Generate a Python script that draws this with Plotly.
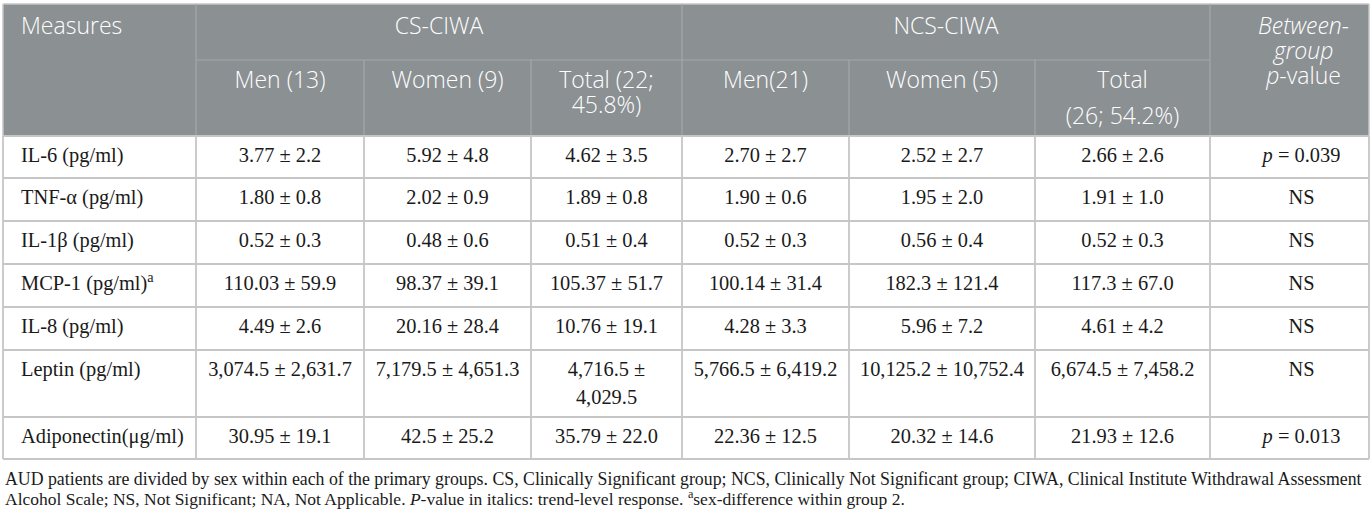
import plotly.graph_objects as go

# table contents
measures = ["IL-6 (pg/ml)", "TNF-α (pg/ml)", "IL-1β (pg/ml)", "MCP-1 (pg/ml)<sup>a</sup>",
            "IL-8 (pg/ml)", "Leptin (pg/ml)", "Adiponectin(μg/ml)"]
cs_men = ["3.77 ± 2.2", "1.80 ± 0.8", "0.52 ± 0.3", "110.03 ± 59.9",
          "4.49 ± 2.6", "3,074.5 ± 2,631.7", "30.95 ± 19.1"]
cs_women = ["5.92 ± 4.8", "2.02 ± 0.9", "0.48 ± 0.6", "98.37 ± 39.1",
            "20.16 ± 28.4", "7,179.5 ± 4,651.3", "42.5 ± 25.2"]
cs_total = ["4.62 ± 3.5", "1.89 ± 0.8", "0.51 ± 0.4", "105.37 ± 51.7",
            "10.76 ± 19.1", "4,716.5 ±<br>4,029.5", "35.79 ± 22.0"]
ncs_men = ["2.70 ± 2.7", "1.90 ± 0.6", "0.52 ± 0.3", "100.14 ± 31.4",
           "4.28 ± 3.3", "5,766.5 ± 6,419.2", "22.36 ± 12.5"]
ncs_women = ["2.52 ± 2.7", "1.95 ± 2.0", "0.56 ± 0.4", "182.3 ± 121.4",
             "5.96 ± 7.2", "10,125.2 ± 10,752.4", "20.32 ± 14.6"]
ncs_total = ["2.66 ± 2.6", "1.91 ± 1.0", "0.52 ± 0.3", "117.3 ± 67.0",
             "4.61 ± 4.2", "6,674.5 ± 7,458.2", "21.93 ± 12.6"]
p_values = ["<i>p</i> = 0.039", "NS", "NS", "NS", "NS", "NS", "<i>p</i> = 0.013"]

first_header = "Measures"
group_labels = ["CS-CIWA", "NCS-CIWA"]
sub_labels = ["Men (13)", "Women (9)", "Total (22;<br>45.8%)",
              "Men(21)", "Women (5)", "Total<br>(26; 54.2%)"]
pvalue_label = "<i>Between-</i><br><i>group</i><br><i>p</i>-value"

footnote_1 = ("AUD patients are divided by sex within each of the primary groups. CS, Clinically Significant group; "
              "NCS, Clinically Not Significant group; CIWA, Clinical Institute Withdrawal Assessment")
footnote_2 = ("Alcohol Scale; NS, Not Significant; NA, Not Applicable. <i>P</i>-value in italics: "
              "trend-level response. <sup>a</sup>sex-difference within group 2.")

# geometry in pixels (axes are set up 1:1 with the page)
W, H = 1372, 516
col_edges = [3, 196, 364, 531, 682, 849, 1035, 1210, 1369]
head_top, head_mid, head_bot = 4, 60, 136
row_edges = [136, 178, 221, 264, 307, 350, 417, 459]
line_gap = 28
head_gap = 25
sub_gaps = [25, 25, 25, 25, 25, 36]

HEAD_BG = "#8b9093"
HEAD_LINE = "#a4a8ab"
GRID = "#c6c6c6"
SERIF = "Liberation Serif"
SANS = "Open Sans"


def split_cells(values, x, gaps, first_offset, tops):
    # one text item per line so the line spacing can be set
    xs, ys, texts = [], [], []
    for v, gap, top in zip(values, gaps, tops):
        for i, part in enumerate(v.split("<br>")):
            xs.append(x)
            ys.append(top + first_offset + i * gap)
            texts.append(part)
    return xs, ys, texts


fig = go.Figure()

# body text
row_tops = row_edges[:-1]
body_gaps = [line_gap] * len(row_tops)
xs, ys, texts = split_cells(measures, col_edges[0] + 18, body_gaps, 21, row_tops)
fig.add_trace(go.Scatter(x=xs, y=ys, text=texts, mode="text", textposition="middle right",
                         textfont=dict(family=SERIF, size=20.4, color="#1a1a1a"), hoverinfo="skip"))

columns = [cs_men, cs_women, cs_total, ncs_men, ncs_women, ncs_total, p_values]
for k, col in enumerate(columns):
    cx = (col_edges[k + 1] + col_edges[k + 2]) / 2
    if k == 6:
        cx += 12
    xs, ys, texts = split_cells(col, cx, body_gaps, 21, row_tops)
    fig.add_trace(go.Scatter(x=xs, y=ys, text=texts, mode="text", textposition="middle center",
                             textfont=dict(family=SERIF, size=20.4, color="#1a1a1a"), hoverinfo="skip"))

# header text
hx, hy, ht = [], [], []
xs, ys, texts = split_cells([first_header], col_edges[0] + 18, [head_gap], 24, [head_top])
fig.add_trace(go.Scatter(x=xs, y=ys, text=texts, mode="text", textposition="middle right",
                         textfont=dict(family=SANS, size=23, color="white", weight=300), hoverinfo="skip"))
for g, label in enumerate(group_labels):
    gx = (col_edges[1 + 3 * g] + col_edges[4 + 3 * g]) / 2
    x1, y1, t1 = split_cells([label], gx, [head_gap], 24, [head_top])
    hx += x1; hy += y1; ht += t1
for k, label in enumerate(sub_labels):
    cx = (col_edges[k + 1] + col_edges[k + 2]) / 2
    x1, y1, t1 = split_cells([label], cx, [sub_gaps[k]], 22, [head_mid])
    hx += x1; hy += y1; ht += t1
x1, y1, t1 = split_cells([pvalue_label], (col_edges[7] + col_edges[8]) / 2 + 14, [head_gap], 24, [head_top])
hx += x1; hy += y1; ht += t1
fig.add_trace(go.Scatter(x=hx, y=hy, text=ht, mode="text", textposition="middle center",
                         textfont=dict(family=SANS, size=23, color="white", weight=300), hoverinfo="skip"))

# header block and lines
shapes = [dict(type="rect", x0=col_edges[0], x1=col_edges[-1], y0=head_top, y1=head_bot,
               fillcolor=HEAD_BG, line=dict(width=0), layer="below"),
          dict(type="line", x0=col_edges[0], x1=col_edges[-1], y0=head_top, y1=head_top,
               line=dict(color=GRID, width=1.5)),
          dict(type="line", x0=col_edges[1], x1=col_edges[7], y0=head_mid, y1=head_mid,
               line=dict(color=HEAD_LINE, width=1.2))]
for k, x in enumerate(col_edges[1:-1]):
    top = head_top if k in (0, 3, 6) else head_mid
    shapes.append(dict(type="line", x0=x, x1=x, y0=top, y1=head_bot,
                       line=dict(color=HEAD_LINE, width=1.2)))
# body grid
for y in row_edges:
    shapes.append(dict(type="line", x0=col_edges[0], x1=col_edges[-1], y0=y, y1=y,
                       line=dict(color=GRID, width=1.8)))
for x in col_edges:
    shapes.append(dict(type="line", x0=x, x1=x, y0=head_bot, y1=row_edges[-1],
                       line=dict(color=GRID, width=1.8)))
for x in (col_edges[0], col_edges[-1]):
    shapes.append(dict(type="line", x0=x, x1=x, y0=head_top, y1=head_bot,
                       line=dict(color=GRID, width=1.5)))

fig.update_layout(
    width=W, height=H,
    margin=dict(l=0, r=0, t=0, b=0),
    paper_bgcolor="white", plot_bgcolor="white",
    showlegend=False,
    shapes=shapes,
    xaxis=dict(range=[0, W], visible=False, fixedrange=True),
    yaxis=dict(range=[H, 0], visible=False, fixedrange=True),
    annotations=[
        dict(text=footnote_1, x=3, y=479, xref="x", yref="y", xanchor="left", yanchor="middle",
             showarrow=False, font=dict(family=SERIF, size=17.8, color="#1a1a1a")),
        dict(text=footnote_2, x=3, y=498, xref="x", yref="y", xanchor="left", yanchor="middle",
             showarrow=False, font=dict(family=SERIF, size=17.5, color="#1a1a1a")),
    ],
)

# the page body has a default 8px margin; drop it so the figure sits at the corner
fig.write_html("out.html", config={"displayModeBar": False},
               post_script="document.body.style.margin='0';")
